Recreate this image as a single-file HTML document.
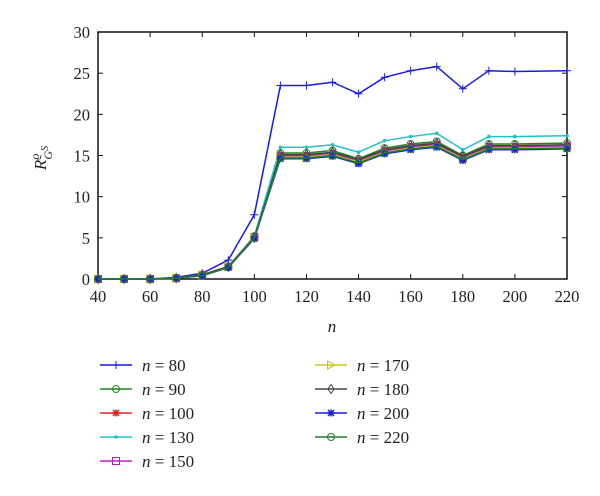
<!DOCTYPE html>
<html><head><meta charset="utf-8"><style>
body{margin:0;background:#fff;}
svg text{font-family:"Liberation Serif",serif;fill:#222;}
</style></head><body>
<svg width="600" height="491" xmlns="http://www.w3.org/2000/svg">
<g id="plot"></g>
<g id="legend"></g>
</svg>
<script>
const xValues=[40,50,60,70,80,90,100,110,120,130,140,150,160,170,180,190,200,210,220];
const s80=[0,0,0,0.2,0.7,2.3,7.8,23.5,23.5,23.9,22.5,24.5,25.3,25.8,23.1,25.3,25.2,25.25,25.3];
const s90=[0,0,0,0.1,0.5,1.5,5.2,15.3,15.3,15.6,14.6,15.9,16.4,16.7,15.0,16.4,16.4,16.45,16.5];
const s100=[0,0,0,0.1,0.5,1.5,5.1,15.0,15.0,15.3,14.4,15.6,16.1,16.4,14.8,16.1,16.1,16.15,16.2];
const s130=[0,0,0,0.1,0.5,1.5,5.2,16.0,16.0,16.3,15.4,16.8,17.3,17.7,15.7,17.3,17.3,17.35,17.4];
const s150=[0,0,0,0.1,0.5,1.5,5.1,14.9,14.9,15.2,14.3,15.5,16.0,16.3,14.7,16.0,16.0,16.05,16.1];
const s170=[0,0,0,0.1,0.5,1.5,5.0,14.8,14.8,15.1,14.2,15.4,15.9,16.2,14.6,15.9,15.9,15.95,16.0];
const s180=[0,0,0,0.1,0.5,1.5,5.0,15.1,15.1,15.4,14.5,15.7,16.2,16.5,14.9,16.2,16.2,16.25,16.3];
const s200=[0,0,0,0.1,0.4,1.4,4.9,14.6,14.6,14.9,14.0,15.2,15.7,16.0,14.4,15.7,15.7,15.75,15.8];
const s220=[0,0,0,0.1,0.4,1.4,5.0,14.7,14.7,15.0,14.1,15.3,15.8,16.1,14.5,15.8,15.8,15.85,15.9];
const xTicks=[40,60,80,100,120,140,160,180,200,220];
const yTicks=[0,5,10,15,20,25,30];
const series=[
 {name:"n = 80",d:s80,c:"#1a1adf",m:"plus"},
 {name:"n = 90",d:s90,c:"#1a8a1a",m:"circle"},
 {name:"n = 100",d:s100,c:"#e02020",m:"star"},
 {name:"n = 130",d:s130,c:"#20c0c8",m:"dot"},
 {name:"n = 150",d:s150,c:"#c020c0",m:"square"},
 {name:"n = 170",d:s170,c:"#c8c820",m:"tri"},
 {name:"n = 180",d:s180,c:"#444444",m:"diamond"},
 {name:"n = 200",d:s200,c:"#1a1adf",m:"star"},
 {name:"n = 220",d:s220,c:"#1f7f2f",m:"circle"}
];
const X0=98,X1=567,Y0=279,Y1=32;
const sx=v=>X0+(v-40)/180*(X1-X0);
const sy=v=>Y0-v/30*(Y0-Y1);
const NS="http://www.w3.org/2000/svg";
function mk(t,a,p){const e=document.createElementNS(NS,t);for(const k in a)e.setAttribute(k,a[k]);p.appendChild(e);return e;}
const plot=document.getElementById('plot');
const frame=mk('rect',{x:X0,y:Y1,width:X1-X0,height:Y0-Y1,fill:'none',stroke:'#111','stroke-width':1.5},plot);


xTicks.forEach(t=>{
 const x=sx(t);
 mk('line',{x1:x,x2:x,y1:Y0,y2:Y0-5,stroke:'#111'},plot);
 mk('line',{x1:x,x2:x,y1:Y1,y2:Y1+5,stroke:'#111'},plot);
 const tx=mk('text',{x:x,y:Y0+23,'text-anchor':'middle','font-size':16.5},plot);tx.textContent=t;
 
 
});
yTicks.forEach(t=>{
 const y=sy(t);
 mk('line',{x1:X0,x2:X0+5,y1:y,y2:y,stroke:'#111'},plot);
 mk('line',{x1:X1,x2:X1-5,y1:y,y2:y,stroke:'#111'},plot);
 const tx=mk('text',{x:X0-8,y:y+6,'text-anchor':'end','font-size':16.5},plot);tx.textContent=t;
 
 
});
const xt=mk('text',{x:332,y:332,'text-anchor':'middle','font-size':17,'font-style':'italic'},plot);xt.textContent='n';


const yt=mk('text',{transform:'translate(46,158) rotate(-90)','text-anchor':'middle','font-size':17,'font-style':'italic'},plot);
yt.innerHTML='R<tspan dy="-7" font-size="12">ϱ</tspan><tspan dx="-6" dy="13" font-size="12">G</tspan><tspan dy="-4" font-size="10">S</tspan>';


function marker(g,m,x,y,c){
 if(m==='plus'){mk('path',{d:`M${x-4} ${y}H${x+4}M${x} ${y-4}V${y+4}`,stroke:c,fill:'none'},g);}
 else if(m==='circle'){mk('circle',{cx:x,cy:y,r:3.5,stroke:c,fill:'none'},g);}
 else if(m==='star'){mk('path',{d:`M${x-3.5} ${y}H${x+3.5}M${x} ${y-3.5}V${y+3.5}M${x-3} ${y-3}L${x+3} ${y+3}M${x-3} ${y+3}L${x+3} ${y-3}`,stroke:c,'stroke-width':1.5},g);}
 else if(m==='dot'){mk('circle',{cx:x,cy:y,r:1.8,fill:c},g);}
 else if(m==='square'){mk('rect',{x:x-3.5,y:y-3.5,width:7,height:7,stroke:c,fill:'none'},g);}
 else if(m==='tri'){mk('path',{d:`M${x-3.5} ${y-4}L${x+4} ${y}L${x-3.5} ${y+4}Z`,stroke:c,fill:'none'},g);}
 else if(m==='diamond'){mk('path',{d:`M${x} ${y-4.5}L${x+3} ${y}L${x} ${y+4.5}L${x-3} ${y}Z`,stroke:c,fill:'none'},g);}
}
series.forEach((s,i)=>{
 const g=mk('g',{},plot);
 
 
 const pts=s.d.map((v,j)=>sx(xValues[j])+','+sy(v)).join(' ');
 mk('polyline',{points:pts,fill:'none',stroke:s.c,'stroke-width':1.5},g);
 s.d.forEach((v,j)=>{ if(xValues[j]!==210) marker(g,s.m,sx(xValues[j]),sy(v),s.c); });
});
const leg=document.getElementById('legend');
series.forEach((s,i)=>{
 const col=i<5?0:1,row=i<5?i:i-5;
 const lx=col?315:100,ly=365+row*24;
 const g=mk('g',{},leg);
 
 
 mk('line',{x1:lx,x2:lx+32,y1:ly,y2:ly,stroke:s.c,'stroke-width':1.4},g);
 marker(g,s.m,lx+16,ly,s.c);
 const t=mk('text',{x:lx+42,y:ly+6,'font-size':17},g);
 t.innerHTML='<tspan font-style="italic">n</tspan> = '+s.name.slice(4);
});
</script>
</body></html>
